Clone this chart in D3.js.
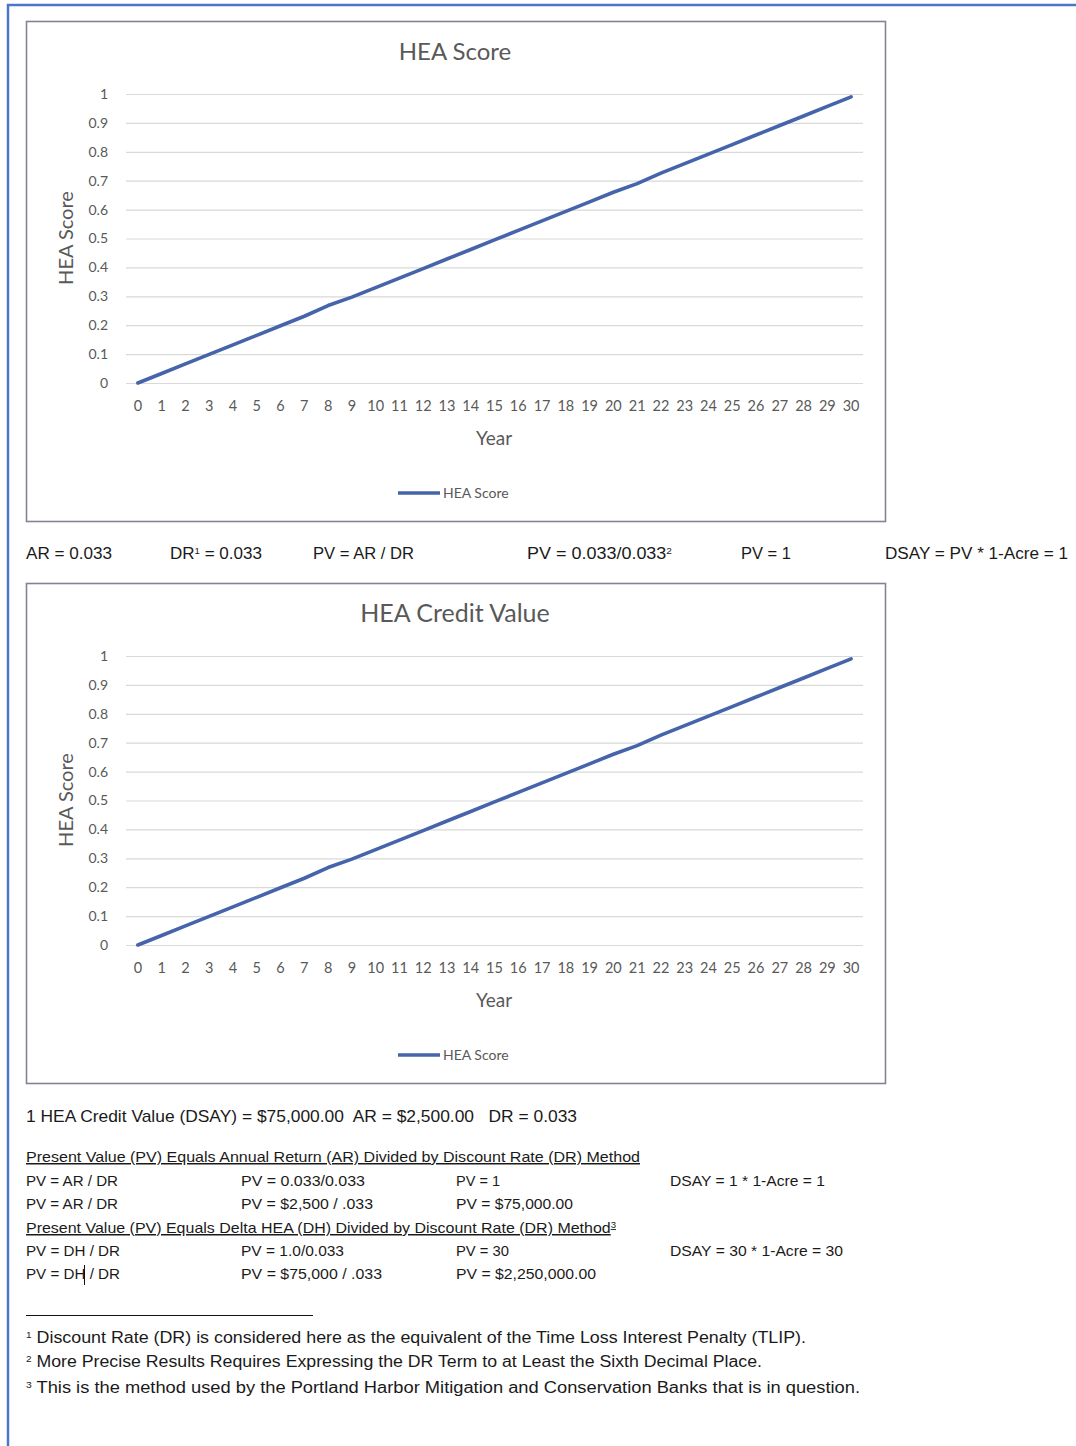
<!DOCTYPE html>
<html><head><meta charset="utf-8">
<script src="https://cdn.jsdelivr.net/npm/d3@7"></script>
<style>
html,body{margin:0;padding:0;background:#fff;}
svg{display:block;}
text{white-space:pre;}
</style></head>
<body>
<script>
// ---- data ----
const years = ["0","1","2","3","4","5","6","7","8","9","10","11","12","13","14","15","16","17","18","19","20","21","22","23","24","25","26","27","28","29","30"];
const heaScore = [0,0.033,0.066,0.099,0.132,0.165,0.198,0.231,0.268,0.297,0.33,0.363,0.396,0.429,0.462,0.495,0.528,0.561,0.594,0.627,0.66,0.69,0.726,0.759,0.792,0.825,0.858,0.891,0.924,0.957,0.99];
const heaCreditValue = [0,0.033,0.066,0.099,0.132,0.165,0.198,0.231,0.268,0.297,0.33,0.363,0.396,0.429,0.462,0.495,0.528,0.561,0.594,0.627,0.66,0.69,0.726,0.759,0.792,0.825,0.858,0.891,0.924,0.957,0.99];
const yTicks = [0,0.1,0.2,0.3,0.4,0.5,0.6,0.7,0.8,0.9,1];
const yTickLabels = ["0","0.1","0.2","0.3","0.4","0.5","0.6","0.7","0.8","0.9","1"];
const chartTitles = ["HEA Score","HEA Credit Value"];
const xAxisTitle = "Year";
const yAxisTitle = "HEA Score";
const seriesName = "HEA Score";

const W = 1076, H = 1446;
const svg = d3.select("body").append("svg").attr("width", W).attr("height", H);

// outer blue frame
svg.append("line").attr("x1",7).attr("x2",W).attr("y1",5).attr("y2",5).attr("stroke","#4a78c8").attr("stroke-width",2.5);
svg.append("line").attr("x1",8).attr("x2",8).attr("y1",4).attr("y2",H).attr("stroke","#4a78c8").attr("stroke-width",2.5);

const chartFont = "Lato, 'Open Sans', sans-serif";
const grey = "#595959";

function drawChart(offY, title, values, titleSize) {
  const g = svg.append("g").attr("transform", `translate(0,${offY})`);
  g.append("rect").attr("x",26.5).attr("y",21.5).attr("width",859).attr("height",500)
    .attr("fill","#fff").attr("stroke","#7f8591").attr("stroke-width",1.6);

  const x = d3.scaleBand().domain(years).range([126, 863]);
  const y = d3.scaleLinear().domain([0,1]).range([383, 94]);

  g.append("text").attr("x",455).attr("y",60).attr("text-anchor","middle")
    .attr("font-family",chartFont).attr("font-size",titleSize).attr("fill",grey).text(title);

  const yAxis = g.append("g").attr("transform","translate(126,0)")
    .call(d3.axisLeft(y).tickValues(yTicks).tickSize(-737).tickPadding(18)
      .tickFormat((d,i)=>yTickLabels[i]));
  yAxis.select(".domain").remove();
  yAxis.selectAll(".tick line").attr("stroke","#d9d9d9").attr("stroke-width",1.2);
  yAxis.selectAll(".tick text").attr("font-family",chartFont).attr("font-size",14).attr("fill",grey);

  const xAxis = g.append("g").attr("transform","translate(0,383)")
    .call(d3.axisBottom(x).tickSize(0).tickPadding(18));
  xAxis.select(".domain").remove();
  xAxis.selectAll(".tick text").attr("font-family",chartFont).attr("font-size",14.5).attr("fill",grey);

  g.append("text").attr("x",494).attr("y",445).attr("text-anchor","middle")
    .attr("font-family",chartFont).attr("font-size",19).attr("fill",grey).text(xAxisTitle);
  g.append("text").attr("transform","translate(73,238) rotate(-90)").attr("text-anchor","middle")
    .attr("font-family",chartFont).attr("font-size",20).attr("fill",grey).text(yAxisTitle);

  const line = d3.line().x((d,i)=>x(years[i]) + x.bandwidth()/2).y(d=>y(d));
  g.append("path").datum(values).attr("d",line).attr("fill","none")
    .attr("stroke","#4564aa").attr("stroke-width",3.6).attr("stroke-linecap","round").attr("stroke-linejoin","round");

  // legend
  g.append("line").attr("x1",398).attr("x2",440).attr("y1",493).attr("y2",493)
    .attr("stroke","#4564aa").attr("stroke-width",3.6);
  g.append("text").attr("x",443).attr("y",498).attr("font-family",chartFont).attr("font-size",14)
    .attr("fill",grey).text(seriesName);
}

drawChart(0, chartTitles[0], heaScore, 24);
drawChart(562, chartTitles[1], heaCreditValue, 25);

// ---- body text ----
const bodyFont = "'Liberation Sans', Arial, sans-serif";
function txt(xp, yp, parts, width, opts={}) {
  const t = svg.append("text").attr("x",xp).attr("y",yp).attr("font-family",bodyFont)
    .attr("font-size",opts.size||16).attr("fill","#1a1a1a");
  if (width) t.attr("textLength",width).attr("lengthAdjust","spacingAndGlyphs");
  if (opts.underline) t.attr("text-decoration","underline");
  parts.forEach(p => {
    if (typeof p === "string") t.append("tspan").text(p);
    else t.append("tspan").attr("font-size",9).attr("baseline-shift","super").text(p.sup);
  });
  return t;
}

const row1 = [
  [26, ["AR = 0.033"], 86],
  [170, ["DR", {sup:"1"}, " = 0.033"], 92],
  [313, ["PV = AR / DR"], 101],
  [527, ["PV = 0.033/0.033", {sup:"2"}], 145],
  [741, ["PV = 1"], 50],
  [885, ["DSAY = PV * 1-Acre = 1"], 183]
];
row1.forEach(r => txt(r[0], 559, r[1], r[2]));

txt(26, 1122, ["1 HEA Credit Value (DSAY) = $75,000.00  AR = $2,500.00   DR = 0.033"], 551, {size:17});

txt(26, 1162, ["Present Value (PV) Equals Annual Return (AR) Divided by Discount Rate (DR) Method"], 614, {size:15, underline:true});
const rowsA = [
  [1186, [["PV = AR / DR",92],["PV = 0.033/0.033",124],["PV = 1",44],["DSAY = 1 * 1-Acre = 1",155]]],
  [1209, [["PV = AR / DR",92],["PV = $2,500 / .033",132],["PV = $75,000.00",117]]]
];
const cols = [26, 241, 456, 670];
rowsA.forEach(r => r[1].forEach((c,i) => txt(cols[i], r[0], [c[0]], c[1], {size:15})));

txt(26, 1233, ["Present Value (PV) Equals Delta HEA (DH) Divided by Discount Rate (DR) Method", {sup:"3"}], 590, {size:15, underline:true});
const rowsB = [
  [1256, [["PV = DH / DR",94],["PV = 1.0/0.033",103],["PV = 30",53],["DSAY = 30 * 1-Acre = 30",173]]],
  [1279, [["PV = DH / DR",94],["PV = $75,000 / .033",141],["PV = $2,250,000.00",140]]]
];
rowsB.forEach(r => r[1].forEach((c,i) => txt(cols[i], r[0], [c[0]], c[1], {size:15})));
// text caret
svg.append("line").attr("x1",84.5).attr("x2",84.5).attr("y1",1265).attr("y2",1285).attr("stroke","#111").attr("stroke-width",1);

// footnote rule
svg.append("line").attr("x1",26).attr("x2",313).attr("y1",1315.5).attr("y2",1315.5).attr("stroke","#111").attr("stroke-width",1.2);
const footnotes = [
  [1343, "1", " Discount Rate (DR) is considered here as the equivalent of the Time Loss Interest Penalty (TLIP).", 780],
  [1367, "2", " More Precise Results Requires Expressing the DR Term to at Least the Sixth Decimal Place.", 736],
  [1393, "3", " This is the method used by the Portland Harbor Mitigation and Conservation Banks that is in question.", 834]
];
footnotes.forEach(f => txt(26, f[0], [{sup:f[1]}, f[2]], f[3], {size:16}));
</script>
</body></html>
